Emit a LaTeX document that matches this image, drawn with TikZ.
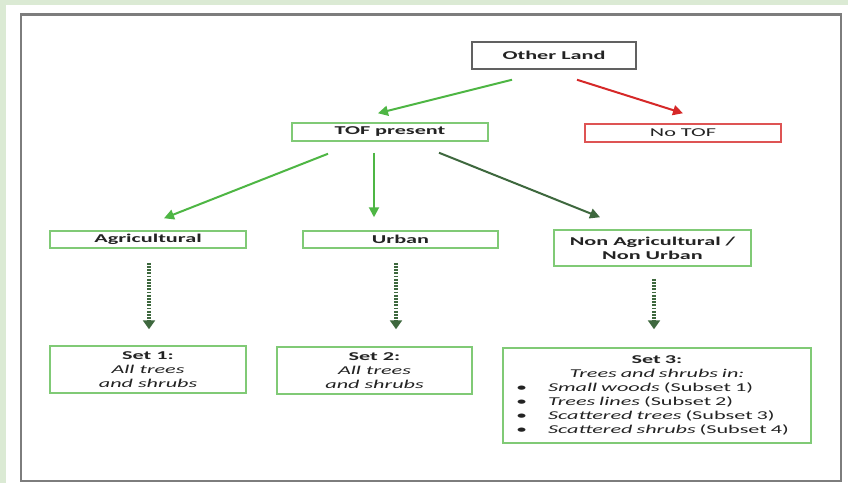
\documentclass[tikz,border=0pt]{standalone}
\usepackage{fontspec}
\usepackage{tikz}
\usetikzlibrary{calc}
\usetikzlibrary{arrows.meta}
\newfontfamily\diafont{Carlito}[FakeStretch=1.85]
\newcommand{\diasize}{\fontsize{12}{14}\selectfont}
\newcommand{\bulletline}[1]{\makebox[41pt][l]{\hspace{9pt}\textbullet}#1}
\definecolor{bandgreen}{RGB}{219,234,212}
\definecolor{boxgreen}{RGB}{128,202,118}
\definecolor{arrowgreen}{RGB}{78,182,68}
\definecolor{darkgreen}{RGB}{62,104,62}
\definecolor{boxred}{RGB}{222,84,84}
\definecolor{arrowred}{RGB}{214,40,40}
\definecolor{framegray}{RGB}{125,125,125}
\definecolor{textgray}{RGB}{35,35,35}
\tikzset{
  landbox/.style = {draw=black!62, line width=1.5pt, minimum width=164pt, minimum height=27pt,
    inner sep=0pt, font=\diafont\diasize\bfseries, text=textgray},
  gbox/.style = {draw=boxgreen, line width=1.5pt, minimum width=196pt, minimum height=18pt,
    inner sep=0pt, align=center, font=\diafont\diasize\bfseries, text=textgray},% green outline
  rbox/.style = {gbox, draw=boxred, font=\diafont\diasize},% red outline
  setbox/.style = {gbox, font=\diafont\diasize},
  garrow/.style = {-{Triangle[length=10pt,width=10pt]}, arrowgreen, line width=2pt},
  darrow/.style = {garrow, darkgreen},
  rarrow/.style = {garrow, arrowred},
  dotarrow/.style = {-{Triangle[length=9pt,width=12pt]}, darkgreen, line width=3.5pt,
    dash pattern=on 1.8pt off 1.4pt},
}
\begin{document}
\begin{tikzpicture}[x=1pt,y=-1pt]
\useasboundingbox (0,0) rectangle (848,483);
\fill[white] (0,0) rectangle (848,483);
\fill[bandgreen] (0,0) rectangle (848,5);
\fill[bandgreen] (0,0) rectangle (6,483);
\draw[framegray, line width=2.2pt] (21,14.5) rectangle (841,481);

\node [landbox] (other) at (554,55.5) {Other Land};
\node [gbox] (tof) at (390,132) {TOF present};
\node [rbox] (notof) at (683,133) {No TOF};
\node [gbox, minimum height=17pt] (agri) at (148,239.5) {Agricultural};
\node [gbox, minimum height=17pt, minimum width=195pt] (urban) at (400.5,239.5) {Urban};
\node [gbox, minimum height=36pt, minimum width=197pt] (nonag) at (652.5,248) {Non Agricultural /\\Non Urban};
\node [setbox, minimum height=47pt] (set1) at (148,369.5)
  {\textbf{Set 1:}\\\textit{All trees}\\\textit{and shrubs}};
\node [setbox, minimum height=47pt, minimum width=195pt] (set2) at (374.5,370.5)
  {\textbf{Set 2:}\\\textit{All trees}\\\textit{and shrubs}};
\node [setbox, minimum height=95pt, minimum width=308pt, text width=300pt, align=left,
  inner xsep=4pt] (set3) at (657,395.5)
  {{\centering\textbf{Set 3:}\\\textit{Trees and shrubs in:}\par}
   \bulletline{\textit{Small woods} (Subset 1)}\\
   \bulletline{\textit{Trees lines} (Subset 2)}\\
   \bulletline{\textit{Scattered trees} (Subset 3)}\\
   \bulletline{\textit{Scattered shrubs} (Subset 4)}};

\draw [garrow] ($(other.south)+(-42,10)$) -- ($(tof.north)+(-12,-9)$);
\draw [rarrow] ($(other.south)+(23,10)$) -- ($(notof.north)+(0,-10)$);
\draw [garrow] ($(tof.south)+(-62,12)$) -- ($(agri.north)+(16,-12)$);
\draw [garrow] ($(tof.south)+(-16,11)$) -- ($(urban.north)+(-26.5,-13)$);
\draw [darrow] ($(tof.south)+(49,11)$) -- ($(nonag.north)+(-52.5,-12)$);
\draw [dotarrow] ($(agri.south)+(1,14)$) -- ($(set1.north)+(1,-16)$);
\draw [dotarrow] ($(urban.south)+(-4.5,14)$) -- ($(set2.north)+(21.5,-17)$);
\draw [dotarrow] ($(nonag.south)+(1.5,12)$) -- ($(set3.north)+(-3,-18)$);
\end{tikzpicture}
\end{document}
